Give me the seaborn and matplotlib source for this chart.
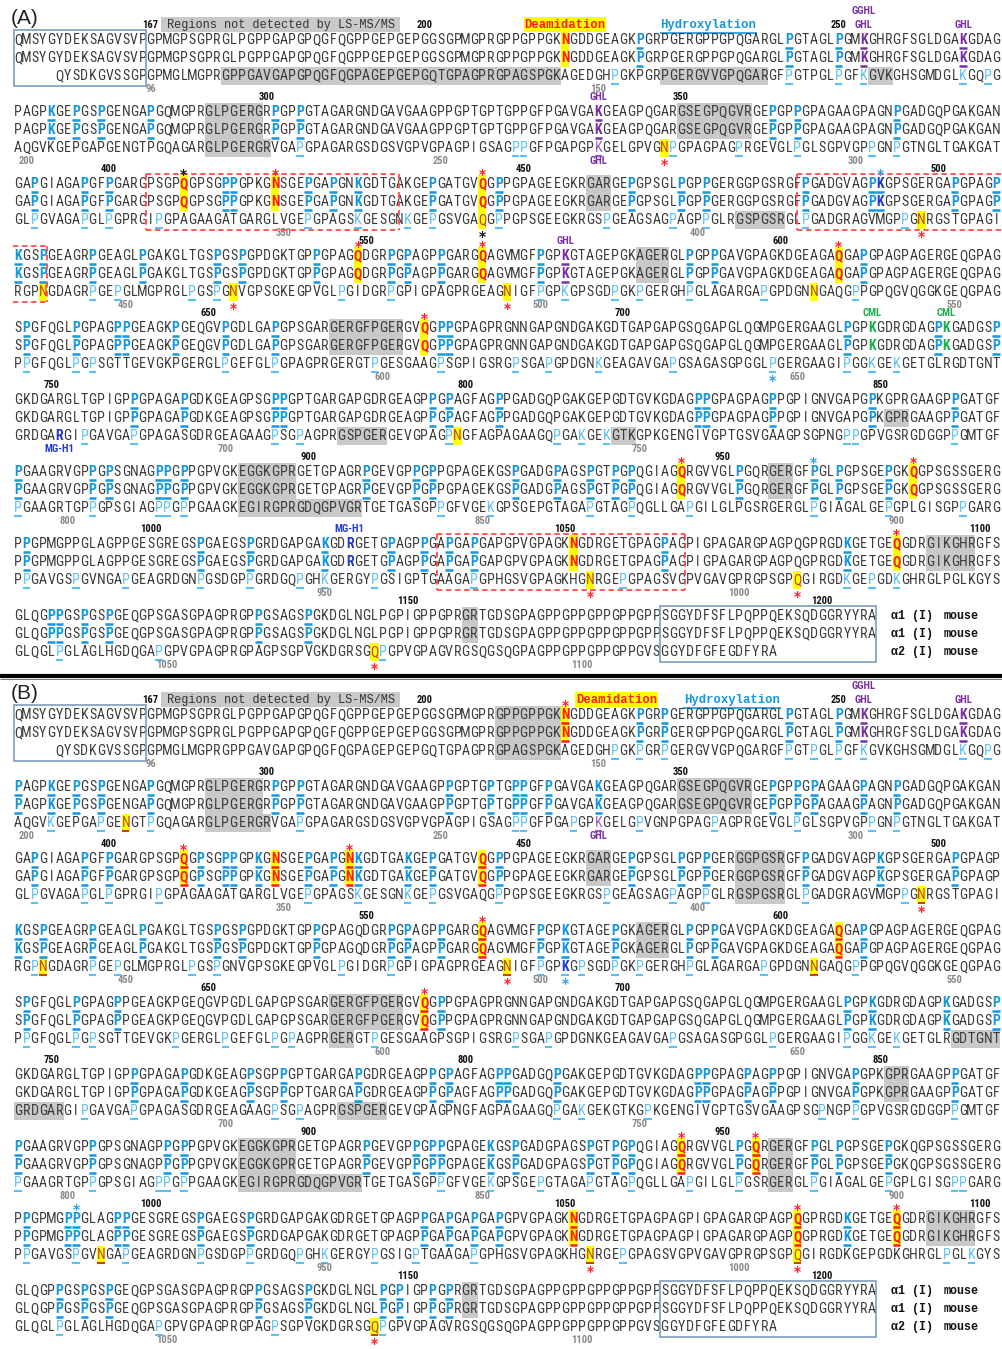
import matplotlib
matplotlib.use("Agg")
import matplotlib.pyplot as plt
from matplotlib import font_manager as fm
from matplotlib.patches import Rectangle
from matplotlib.collections import LineCollection
import seaborn as sns

# ------------------------------------------------------------------
# Sequences, wrapped in blocks of 119 residues (mouse collagen I)
# ------------------------------------------------------------------
ALPHA1_BLOCKS = [
    "QMSYGYDEKSAGVSVPGPMGPSGPRGLPGPPGAPGPQGFQGPPGEPGEPGGSGPMGPRGPPGPPGKNGDDGEAGKPGRPGERGPPGPQGARGLPGTAGLPGMKGHRGFSGLDGAKGDAG",
    "PAGPKGEPGSPGENGAPGQMGPRGLPGERGRPGPPGTAGARGNDGAVGAAGPPGPTGPTGPPGFPGAVGAKGEAGPQGARGSEGPQGVRGEPGPPGPAGAAGPAGNPGADGQPGAKGAN",
    "GAPGIAGAPGFPGARGPSGPQGPSGPPGPKGNSGEPGAPGNKGDTGAKGEPGATGVQGPPGPAGEEGKRGARGEPGPSGLPGPPGERGGPGSRGFPGADGVAGPKGPSGERGAPGPAGP",
    "KGSPGEAGRPGEAGLPGAKGLTGSPGSPGPDGKTGPPGPAGQDGRPGPAGPPGARGQAGVMGFPGPKGTAGEPGKAGERGLPGPPGAVGPAGKDGEAGAQGAPGPAGPAGERGEQGPAG",
    "SPGFQGLPGPAGPPGEAGKPGEQGVPGDLGAPGPSGARGERGFPGERGVQGPPGPAGPRGNNGAPGNDGAKGDTGAPGAPGSQGAPGLQGMPGERGAAGLPGPKGDRGDAGPKGADGSP",
    "GKDGARGLTGPIGPPGPAGAPGDKGEAGPSGPPGPTGARGAPGDRGEAGPPGPAGFAGPPGADGQPGAKGEPGDTGVKGDAGPPGPAGPAGPPGPIGNVGAPGPKGPRGAAGPPGATGF",
    "PGAAGRVGPPGPSGNAGPPGPPGPVGKEGGKGPRGETGPAGRPGEVGPPGPPGPAGEKGSPGADGPAGSPGTPGPQGIAGQRGVVGLPGQRGERGFPGLPGPSGEPGKQGPSGSSGERG",
    "PPGPMGPPGLAGPPGESGREGSPGAEGSPGRDGAPGAKGDRGETGPAGPPGAPGAPGAPGPVGPAGKNGDRGETGPAGPAGPIGPAGARGPAGPQGPRGDKGETGEQGDRGIKGHRGFS",
    "GLQGPPGSPGSPGEQGPSGASGPAGPRGPPGSAGSPGKDGLNGLPGPIGPPGPRGRTGDSGPAGPPGPPGPPGPPGPPSGGYDFSFLPQPPQEKSQDGGRYYRA",
]
ALPHA2_BLOCKS = [
    "     QYSDKGVSSGPGPMGLMGPRGPPGAVGAPGPQGFQGPAGEPGEPGQTGPAGPRGPAGSPGKAGEDGHPGKPGRPGERGVVGPQGARGFPGTPGLPGFKGVKGHSGMDGLKGQPG",
    "AQGVKGEPGAPGENGTPGQAGARGLPGERGRVGAPGPAGARGSDGSVGPVGPAGPIGSAGPPGFPGAPGPKGELGPVGNPGPAGPAGPRGEVGLPGLSGPVGPPGNPGTNGLTGAKGAT",
    "GLPGVAGAPGLPGPRGIPGPAGAAGATGARGLVGEPGPAGSKGESGNKGEPGSVGAQGPPGPSGEEGKRGSPGEAGSAGPAGPPGLRGSPGSRGLPGADGRAGVMGPPGNRGSTGPAGI",
    "RGPNGDAGRPGEPGLMGPRGLPGSPGNVGPSGKEGPVGLPGIDGRPGPIGPAGPRGEAGNIGFPGPKGPSGDPGKPGERGHPGLAGARGAPGPDGNNGAQGPPGPQGVQGGKGEQGPAG",
    "PPGFQGLPGPSGTTGEVGKPGERGLPGEFGLPGPAGPRGERGTPGESGAAGPSGPIGSRGPSGAPGPDGNKGEAGAVGAPGSAGASGPGGLPGERGAAGIPGGKGEKGETGLRGDTGNT",
    "GRDGARGIPGAVGAPGPAGASGDRGEAGAAGPSGPAGPRGSPGERGEVGPAGPNGFAGPAGAAGQPGAKGEKGTKGPKGENGIVGPTGSVGAAGPSGPNGPPGPVGSRGDGGPPGMTGF",
    "PGAAGRTGPPGPSGIAGPPGPPGAAGKEGIRGPRGDQGPVGRTGETGASGPPGFVGEKGPSGEPGTAGAPGTAGPQGLLGAPGILGLPGSRGERGLPGIAGALGEPGPLGISGPPGARG",
    "PPGAVGSPGVNGAPGEAGRDGNPGSDGPPGRDGQPGHKGERGYPGSIGPTGAAGAPGPHGSVGPAGKHGNRGEPGPAGSVGPVGAVGPRGPSGPQGIRGDKGEPGDKGHRGLPGLKGYS",
    "GLQGLPGLAGLHGDQGAPGPVGPAGPRGPAGPSGPVGKDGRSGQPGPVGPAGVRGSQGSQGPAGPPGPPGPPGPPGVSGGYDFGFEGDFYRA",
]
ROW_LABELS = ["α1 (I)", "α1 (I)", "α2 (I)"]
ROW_SPECIES = ["mouse", "mouse", "mouse"]

ALPHA1_FIRST = 151   # residue number at column 1 of the first block
ALPHA2_FIRST = 80
BLOCK_WIDTH = 119
ALPHA1_NUMBERS = [167, 200, 250, 300, 350, 400, 450, 500, 550, 600, 650, 700,
                  750, 800, 850, 900, 950, 1000, 1050, 1100, 1150, 1200]
ALPHA2_NUMBERS = [96, 150, 200, 250, 300, 350, 400, 450, 500, 550, 600, 650,
                  700, 750, 800, 850, 900, 950, 1000, 1050, 1100]
# boxed telopeptide regions: (block, first column, last column)
TELOPEPTIDE_BOXES = [(1, 1, 16), (9, 79, 104)]

# ------------------------------------------------------------------
# Panel A modifications (block -> columns)
# ------------------------------------------------------------------
A_BLUE_A1 = {1: [76, 94, 100],
             2: [5, 8, 11, 17, 32, 35, 92, 95, 107],
             3: [3, 9, 12, 26, 27, 36, 39, 42, 51, 59, 75, 81, 84, 96, 104, 105, 114, 119],
             4: [1, 4, 10, 16, 25, 28, 37, 46, 48, 52, 64, 82, 85, 103],
             5: [2, 8, 13, 14, 20, 26, 32, 52, 53, 101, 112, 119],
             6: [15, 21, 32, 33, 51, 53, 59, 83, 84, 92, 104, 114],
             7: [1, 10, 12, 18, 19, 21, 43, 49, 51, 61, 66, 70, 73, 75, 88, 97, 100, 106],
             8: [2, 23, 29, 38, 46, 50, 53, 56, 79, 101],
             9: [5, 6, 9, 12, 30, 36]}
A_BLUE_A2 = {1: [73, 94, 100, 103, 115, 118],
             2: [35, 61, 62, 80, 88, 95, 104, 107],
             3: [3, 9, 12, 18, 36, 42, 48, 51, 59, 72, 80, 84, 96, 108],
             4: [10, 13, 22, 25, 40, 46, 64, 67, 73, 76, 82, 91, 102],
             5: [2, 8, 10, 26, 32, 44, 52, 61, 65, 71, 80, 92, 101, 104, 107],
             6: [9, 15, 32, 35, 53, 66, 69, 72, 101, 102, 114],
             7: [1, 10, 18, 19, 21, 52, 58, 70, 75, 82, 97, 106, 115],
             8: [2, 8, 14, 23, 29, 35, 38, 44, 56, 74, 101, 104, 107],
             9: [6, 18, 45]}
A_DEAMID_A1 = {1: [67], 3: [21, 32, 57], 4: [42, 57, 100], 5: [50], 7: [81, 109], 8: [68, 107]}
A_DEAMID_A2 = {2: [79], 3: [57, 110], 4: [4, 27, 60, 97], 6: [54], 8: [70, 95], 9: [44]}
A_GHL_A1 = {1: [103, 115], 2: [71], 4: [67]}
A_GHL_A2 = {2: [71]}
A_CML_A1 = {5: [104, 113]}
A_MGH1_A1 = {3: [105], 8: [41]}
A_MGH1_A2 = {6: [6]}
A_GRAY_A1 = {2: [(24, 30), (81, 89)], 3: [(70, 72)], 4: [(76, 79)], 5: [(39, 47)],
             7: [(28, 34), (92, 94)], 8: [(111, 116)], 9: [(55, 56)]}
A_GRAY_A1_SECOND = {6: [(106, 108)]}
A_GRAY_A2 = {1: [(26, 66), (79, 91), (104, 106)], 2: [(24, 31)], 3: [(88, 93)],
             6: [(40, 45), (73, 75)], 7: [(28, 42)]}
A_STARS = [(3, "above", 21, "black"), (3, "above", 32, "red"), (3, "above", 57, "red"),
           (3, "above", 105, "blue"), (2, "below", 79, "red"), (3, "below", 57, "black"),
           (3, "below", 110, "red"), (4, "above", 42, "red"), (4, "above", 57, "red"),
           (4, "above", 100, "red"), (4, "below", 27, "red"), (4, "below", 60, "red"),
           (5, "above", 50, "red"), (5, "below", 92, "blue"), (7, "above", 81, "red"),
           (7, "above", 97, "blue"), (7, "above", 109, "red"), (8, "above", 107, "red"),
           (8, "below", 70, "red"), (8, "below", 95, "red"), (9, "below", 44, "red")]
A_TAGS = [(1, "top", 103, "GGHL", "purple"), (1, "above", 103, "GHL", "purple"),
          (1, "above", 115, "GHL", "purple"), (2, "above", 71, "GHL", "purple"),
          (2, "below", 71, "GHL", "purple"), (4, "above", 67, "GHL", "purple"),
          (5, "above", 104, "CML", "green"), (5, "above", 113, "CML", "green"),
          (6, "below", 6, "MG-H1", "navy"), (8, "above", 41, "MG-H1", "navy")]
# dashed frames: (block, left edge, right edge, open side)
A_FRAMES = [(3, 16.5, 47.0, None), (3, 95.0, 119.6, "right"), (4, 0.4, 4.5, "left"),
            (8, 51.5, 81.5, None)]

# ------------------------------------------------------------------
# Panel B modifications
# ------------------------------------------------------------------
B_BLUE_A1 = {1: [76, 79, 94, 100],
             2: [1, 5, 8, 11, 17, 32, 35, 53, 58, 61, 62, 65, 71, 92, 95, 97, 103, 107],
             3: [3, 9, 12, 23, 26, 27, 30, 36, 39, 42, 48, 51, 59, 75, 81, 84, 96, 105, 114],
             4: [1, 4, 10, 16, 25, 28, 37, 46, 48, 52, 64, 67, 73, 82, 85, 103],
             5: [2, 8, 13, 52, 101, 104, 113, 119],
             6: [15, 21, 29, 33, 42, 51, 53, 59, 60, 66, 83, 84, 89, 92, 102, 114],
             7: [1, 10, 19, 21, 43, 49, 51, 52, 58, 61, 70, 73, 75, 88, 97, 100, 106],
             8: [2, 7, 8, 13, 14, 23, 29, 50, 53, 56, 59, 101],
             9: [6, 9, 12, 30, 36, 45, 47, 51, 53]}
B_BLUE_A2 = {1: [73, 76, 79, 94, 97, 100, 103, 115, 118],
             2: [5, 11, 17, 35, 61, 62, 68, 76, 85, 95, 104, 107],
             3: [3, 9, 12, 18, 36, 42, 48, 51, 59, 72, 80, 84, 96, 108],
             4: [3, 10, 13, 22, 25, 40, 46, 64, 67, 69, 73, 76, 82, 91, 102],
             5: [2, 8, 10, 20, 26, 32, 34, 44, 61, 65, 80, 92, 101, 104, 107],
             6: [9, 15, 32, 35, 66, 69, 77, 98, 102, 114],
             7: [1, 10, 18, 19, 21, 52, 58, 64, 70, 75, 82, 88, 97, 106, 114, 115],
             8: [2, 8, 14, 23, 29, 35, 38, 44, 49, 56, 74, 113, 116],
             9: [6, 18, 32, 45]}
B_DEAMID_A1 = {1: [67], 3: [21, 32, 41, 57], 4: [57, 100], 5: [50], 7: [81, 90], 8: [68, 95, 107]}
B_DEAMID_A2 = {2: [14], 3: [110], 4: [4, 60, 97], 8: [11, 70, 95], 9: [44]}
B_GHL_A1 = {1: [103, 115]}
B_GHL_A2 = {2: [71]}
B_MGH1_A2 = {4: [67]}
B_GRAY_A1 = {1: [(59, 66)], 2: [(24, 30), (81, 89)], 3: [(70, 72), (88, 93)], 4: [(76, 79)],
             5: [(39, 47)], 6: [(106, 108)], 7: [(28, 34), (92, 94)], 8: [(111, 116)],
             9: [(55, 56)]}
B_GRAY_A2 = {1: [(59, 66)], 2: [(24, 31)], 3: [(88, 93)], 5: [(39, 41), (114, 119)],
             6: [(1, 6), (40, 45)], 7: [(28, 42), (92, 94)]}
B_STARS = [(1, "above", 67, "red"), (3, "above", 21, "red"), (3, "above", 41, "red"),
           (3, "below", 110, "red"), (4, "above", 57, "red"), (4, "below", 60, "red"),
           (4, "below", 67, "blue"), (5, "above", 50, "red"), (7, "above", 81, "red"),
           (7, "above", 90, "red"), (8, "above", 8, "blue"), (8, "above", 95, "red"),
           (8, "above", 107, "red"), (8, "below", 70, "red"), (8, "below", 95, "red"),
           (9, "below", 44, "red")]
B_TAGS = [(1, "top", 103, "GGHL", "purple"), (1, "above", 103, "GHL", "purple"),
          (1, "above", 115, "GHL", "purple"), (2, "below", 71, "GHL", "purple")]

# ------------------------------------------------------------------
# Styling
# ------------------------------------------------------------------
sns.set_theme(style="white")

TEXT = "#3a3a3a"
BLUE1 = "#1297e0"
BLUE2 = "#5cc0f2"
YELLOW = "#ffff00"
RED = "#ff1a1a"
RUST = "#c8401a"
GRAY = "#c9c9c9"
COLORS = {"purple": "#7b2fa6", "green": "#17b04a", "navy": "#2038d8",
          "red": "#ff2020", "black": "#111111", "blue": "#2aa0ea"}
BOX_BLUE = "#7d9cc2"


def narrow_family():
    names = {f.name for f in fm.fontManager.ttflist}
    for cand in ("Liberation Sans Narrow", "Roboto Condensed", "Noto Sans Condensed",
                 "Open Sans Condensed"):
        if cand in names:
            return cand, "normal"
    if any(f.name == "DejaVu Sans" and str(f.stretch) == "condensed"
           for f in fm.fontManager.ttflist):
        return "DejaVu Sans", "condensed"
    return "Liberation Sans", "normal"


SEQ_FAMILY, SEQ_STRETCH = narrow_family()
MONO = ["Liberation Mono", "DejaVu Sans Mono"]
plt.rcParams["font.family"] = ["DejaVu Sans"]

SEQ_SIZE = 10.0
NUM_SIZE = 7.6
PANEL_SHIFT = 37.5      # rows between panel A and panel B

fig = plt.figure(figsize=(10.03, 13.49), dpi=100)
ax = fig.add_axes([0, 0, 1, 1])
ax.set_xlim(-1.171, 119.82)
ax.set_ylim(72.72, -2.222)
ax.axis("off")

underlines = []   # (x0, x1, y, color, lw)


def seq_text(x, y, s, color, weight, size=SEQ_SIZE, **kw):
    ax.text(x, y, s, color=color, fontweight=weight, fontsize=size,
            family=SEQ_FAMILY, fontstretch=SEQ_STRETCH, ha="center", va="center",
            zorder=4, **kw)


def draw_panel(shift, blue1, blue2, deam1, deam2, ghl1, ghl2, cml1, mgh1, mgh2,
               gray1, gray1_second, gray2, stars, tags, frames, yellow_underline,
               deam_x, hyd_x, letter):
    for b in range(1, 10):
        base = shift + 4 * (b - 1)
        rows = [(base, ALPHA1_BLOCKS[b - 1], 0), (base + 1, ALPHA1_BLOCKS[b - 1], 1),
                (base + 2, ALPHA2_BLOCKS[b - 1], 2)]
        for u, seq, r in rows:
            a1 = r < 2
            grays = list((gray1 if a1 else gray2).get(b, []))
            if r == 1:
                grays += gray1_second.get(b, [])
            for s, e in grays:
                ax.add_patch(Rectangle((s - 0.5, u - 0.48), e - s + 1, 0.96,
                                       fc=GRAY, ec="none", zorder=1))
            blue = set((blue1 if a1 else blue2).get(b, []))
            deam = set((deam1 if a1 else deam2).get(b, []))
            ghl = set((ghl1 if a1 else ghl2).get(b, []))
            cml = set(cml1.get(b, [])) if a1 else set()
            navy = set((mgh1 if a1 else mgh2).get(b, []))
            for c, ch in enumerate(seq, start=1):
                if ch == " ":
                    continue
                color, weight, ul = TEXT, "normal", None
                if c in blue:
                    if a1:
                        color, weight, ul = BLUE1, "bold", BLUE1
                    else:
                        color, weight, ul = BLUE2, "normal", BLUE2
                if c in ghl:
                    color = COLORS["purple"] if a1 else "#9a5cc8"
                    weight = "bold" if a1 else "normal"
                    ul = color
                if c in cml:
                    color, weight = COLORS["green"], "bold"
                if c in navy:
                    color, weight = COLORS["navy"], "bold"
                if c in deam:
                    ax.add_patch(Rectangle((c - 0.5, u - 0.5), 1.0, 1.0,
                                           fc=YELLOW, ec="none", zorder=2))
                    color = RED if a1 else RUST
                    weight = "bold" if a1 else "normal"
                    ul = color if yellow_underline else None
                seq_text(c, u, ch, color, weight)
                if ul:
                    underlines.append((c - 0.45, c + 0.45, u + 0.42, ul, 1.8 if a1 else 1.5))

        # residue numbers
        first1 = ALPHA1_FIRST + BLOCK_WIDTH * (b - 1)
        first2 = ALPHA2_FIRST + BLOCK_WIDTH * (b - 1)
        for v in ALPHA1_NUMBERS:
            col = v - first1 + 1
            if 1 <= col <= len(ALPHA1_BLOCKS[b - 1]):
                seq_text(col, base - 0.85, str(v), "#111111", "bold", size=NUM_SIZE)
        for v in ALPHA2_NUMBERS:
            col = v - first2 + 1
            if 1 <= col <= len(ALPHA2_BLOCKS[b - 1]):
                seq_text(col, base + 2.72, str(v), "#8a8a8a", "bold", size=NUM_SIZE)

        if b == 9:
            for r in range(3):
                ax.text(106.3, base + r, ROW_LABELS[r], family=MONO, fontweight="bold",
                        fontsize=8.4, color="#111111", ha="left", va="center")
                ax.text(112.7, base + r, ROW_SPECIES[r], family=MONO, fontweight="bold",
                        fontsize=8.4, color="#111111", ha="left", va="center")

    # telopeptide boxes
    for b, c0, c1 in TELOPEPTIDE_BOXES:
        base = shift + 4 * (b - 1)
        ax.add_patch(Rectangle((c0 - 0.5, base - 0.55), c1 - c0 + 1, 3.1,
                               fill=False, ec=BOX_BLUE, lw=1.2, zorder=5))

    # dashed red frames
    for b, x0, x1, open_side in frames:
        base = shift + 4 * (b - 1)
        y0, y1 = base - 0.55, base + 2.58
        kw = dict(color="#ff4a4a", lw=1.3, ls=(0, (3, 2)), zorder=5)
        ax.plot([x0, x1], [y0, y0], **kw)
        ax.plot([x0, x1], [y1, y1], **kw)
        if open_side != "left":
            ax.plot([x0, x0], [y0, y1], **kw)
        if open_side != "right":
            ax.plot([x1, x1], [y0, y1], **kw)

    # asterisks
    for b, where, col, cname in stars:
        base = shift + 4 * (b - 1)
        y = base - 0.5 if where == "above" else base + 2.95
        ax.text(col, y, "*", color=COLORS[cname], fontsize=10, fontweight="bold",
                ha="center", va="center", zorder=6)

    # modification tags
    for b, where, col, label, cname in tags:
        base = shift + 4 * (b - 1)
        y = {"top": base - 1.62, "above": base - 0.85, "below": base + 2.74}[where]
        seq_text(col, y, label, COLORS[cname], "bold", size=NUM_SIZE)

    # header of the first block
    ax.add_patch(Rectangle((18.3, shift - 1.28), 28.8, 0.82, fc=GRAY, ec="none", zorder=1))
    ax.text(32.7, shift - 0.86, "Regions not detected by LS-MS/MS", family=MONO,
            fontsize=8.6, color="#333333", ha="center", va="center", zorder=4)
    ax.add_patch(Rectangle((deam_x - 4.95, shift - 1.28), 9.9, 0.86,
                           fc=YELLOW, ec="none", zorder=1))
    ax.text(deam_x, shift - 0.85, "Deamidation", family=MONO, fontweight="bold",
            fontsize=8.8, color=RED, ha="center", va="center", zorder=4)
    ax.text(hyd_x, shift - 0.85, "Hydroxylation", family=MONO, fontweight="bold",
            fontsize=8.8, color=BLUE1, ha="center", va="center", zorder=4)
    underlines.append((hyd_x - 5.9, hyd_x + 5.9, shift - 0.38, BLUE1, 1.2))
    ax.text(1.75, shift - 1.17, letter, fontsize=15, color="#222222",
            ha="center", va="center", family=["Liberation Sans", "DejaVu Sans"])


draw_panel(0.0, A_BLUE_A1, A_BLUE_A2, A_DEAMID_A1, A_DEAMID_A2, A_GHL_A1, A_GHL_A2,
           A_CML_A1, A_MGH1_A1, A_MGH1_A2, A_GRAY_A1, A_GRAY_A1_SECOND, A_GRAY_A2,
           A_STARS, A_TAGS, A_FRAMES, False, 67.0, 84.3, "(A)")
draw_panel(PANEL_SHIFT, B_BLUE_A1, B_BLUE_A2, B_DEAMID_A1, B_DEAMID_A2, B_GHL_A1, B_GHL_A2,
           {}, {}, B_MGH1_A2, B_GRAY_A1, {}, B_GRAY_A2,
           B_STARS, B_TAGS, [], True, 73.2, 87.1, "(B)")

segs = [[(x0, y), (x1, y)] for x0, x1, y, _, _ in underlines]
ax.add_collection(LineCollection(segs, colors=[u[3] for u in underlines],
                                 linewidths=[u[4] for u in underlines], zorder=3,
                                 capstyle="butt"))

# divider between the panels
ax.plot([-1.2, 120], [35.33, 35.33], color="black", lw=3.0, solid_capstyle="butt")
ax.plot([-1.2, 120], [35.5, 35.5], color="#777777", lw=0.7, solid_capstyle="butt")

fig.savefig("out.png", dpi=100)
